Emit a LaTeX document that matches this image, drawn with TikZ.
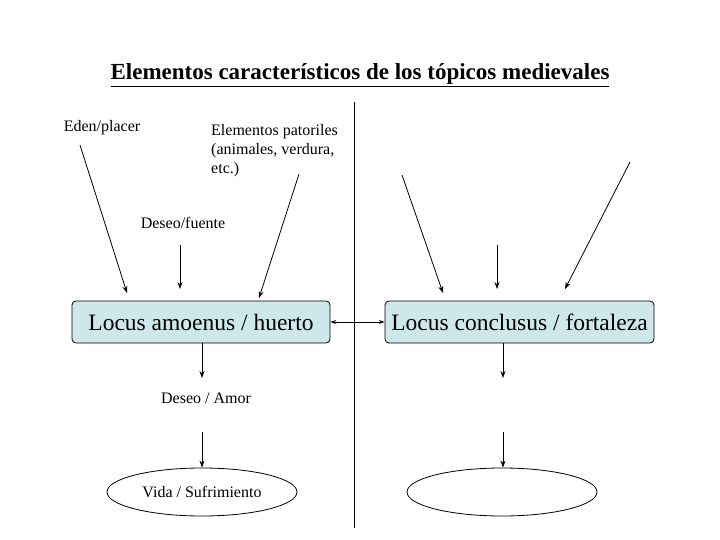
\documentclass[tikz,border=0pt]{standalone}
\usepackage{fontspec}
\setmainfont{Liberation Serif}
\usetikzlibrary{arrows.meta,shapes.geometric}
\definecolor{boxfill}{HTML}{CDE7EB}
\begin{document}
\begin{tikzpicture}[x=1pt,y=-1pt,
  arr/.style={-{Stealth[length=7pt,width=5pt]},thick},
  box/.style={draw,thick,fill=boxfill,rounded corners=4pt,minimum height=42pt,font=\fontsize{23.5}{26}\selectfont},
  lab/.style={font=\fontsize{16}{19}\selectfont},
  ell/.style={draw,thick,ellipse,minimum width=190pt,minimum height=48pt,font=\fontsize{16}{19}\selectfont}]
\useasboundingbox (0,0) rectangle (720,540);
\node (title) at (360,75) {\fontsize{23}{26}\selectfont\bfseries\underline{Elementos característicos de los tópicos medievales}};
\coordinate (vt) at (354,102); \coordinate (vb) at (354,528);
\draw[thick] (vt) -- (vb);
\node[lab] (eden) at (102,128) {Eden/placer};
\node[lab,align=left,anchor=north west,inner sep=0pt] (past) at (211,124) {Elementos patoriles\\(animales, verdura,\\etc.)};
\node[lab] (deseo) at (183,223) {Deseo/fuente};
\node[box,minimum width=258pt] (b1) at (201,322) {Locus amoenus / huerto};
\node[box,minimum width=269pt] (b2) at (519.5,322) {Locus conclusus / fortaleza};
\draw[{Stealth[length=6pt,width=4pt]}-{Stealth[length=6pt,width=4pt]},thick] (b1) -- (b2);
\coordinate (a1) at (80,145); \coordinate (a1e) at (127,293);
\coordinate (a2) at (299,174); \coordinate (a2e) at (259,298);
\coordinate (a3) at (180,245); \coordinate (a3e) at (180,289);
\coordinate (a4) at (402,175); \coordinate (a4e) at (443,293);
\coordinate (a5) at (497,245); \coordinate (a5e) at (497,289);
\coordinate (a6) at (630,162); \coordinate (a6e) at (565,289);
\draw[arr] (a1) -- (a1e);
\draw[arr] (a2) -- (a2e);
\draw[arr] (a3) -- (a3e);
\draw[arr] (a4) -- (a4e);
\draw[arr] (a5) -- (a5e);
\draw[arr] (a6) -- (a6e);
\node[lab] (amor) at (206,398) {Deseo / Amor};
\node[ell] (e1) at (202,492) {Vida / Sufrimiento};
\node[ell] (e2) at (502,492) {};
\coordinate (c1) at (202,378); \coordinate (c2) at (202,432);
\coordinate (d1) at (503,378); \coordinate (d2) at (503,432);
\draw[arr] (c1 |- b1.south) -- (c1);
\draw[arr] (c2) -- (e1.north);
\draw[arr] (d1 |- b2.south) -- (d1);
\draw[arr] (d2) -- (d2 |- e2.north);
\end{tikzpicture}
\end{document}
